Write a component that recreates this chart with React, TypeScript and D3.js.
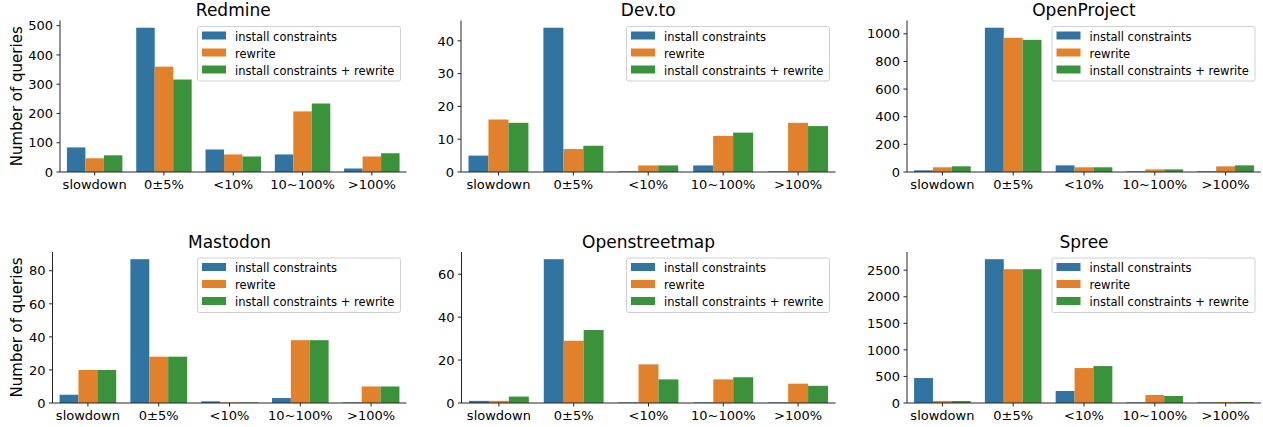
import React from "react";
import * as d3 from "d3";

const categories = ["slowdown", "0±5%", "<10%", "10~100%", ">100%"];
const seriesNames = ["install constraints", "rewrite", "install constraints + rewrite"];
const colors = ["#3274a1", "#e1812c", "#3a923a"];

const redmineInstall = [84, 493, 77, 60, 12];
const redmineRewrite = [47, 360, 60, 207, 53];
const redmineBoth = [57, 316, 53, 234, 64];

const devtoInstall = [5, 44, 0, 2, 0];
const devtoRewrite = [16, 7, 2, 11, 15];
const devtoBoth = [15, 8, 2, 12, 14];

const openprojectInstall = [12, 1044, 48, 3, 2];
const openprojectRewrite = [34, 971, 34, 19, 41];
const openprojectBoth = [41, 956, 34, 19, 48];

const mastodonInstall = [5, 87, 1, 3, 0];
const mastodonRewrite = [20, 28, 0, 38, 10];
const mastodonBoth = [20, 28, 0, 38, 10];

const osmInstall = [1, 67, 0, 0, 0];
const osmRewrite = [1, 29, 18, 11, 9];
const osmBoth = [3, 34, 11, 12, 8];

const spreeInstall = [470, 2707, 226, 5, 3];
const spreeRewrite = [38, 2519, 658, 150, 19];
const spreeBoth = [38, 2519, 695, 132, 19];

const redmineTicks = [0, 100, 200, 300, 400, 500];
const devtoTicks = [0, 10, 20, 30, 40];
const openprojectTicks = [0, 200, 400, 600, 800, 1000];
const mastodonTicks = [0, 20, 40, 60, 80];
const osmTicks = [0, 20, 40, 60];
const spreeTicks = [0, 500, 1000, 1500, 2000, 2500];

const panels = [
  { title: "Redmine", series: [redmineInstall, redmineRewrite, redmineBoth], ticks: redmineTicks, box: [60, 406.5, 20.5, 172], ylabel: true },
  { title: "Dev.to", series: [devtoInstall, devtoRewrite, devtoBoth], ticks: devtoTicks, box: [461, 835.5, 20.5, 172], ylabel: false },
  { title: "OpenProject", series: [openprojectInstall, openprojectRewrite, openprojectBoth], ticks: openprojectTicks, box: [907, 1261, 20.5, 172], ylabel: false },
  { title: "Mastodon", series: [mastodonInstall, mastodonRewrite, mastodonBoth], ticks: mastodonTicks, box: [52.5, 406.5, 252, 403], ylabel: true },
  { title: "Openstreetmap", series: [osmInstall, osmRewrite, osmBoth], ticks: osmTicks, box: [461.5, 835.5, 252, 403], ylabel: false },
  { title: "Spree", series: [spreeInstall, spreeRewrite, spreeBoth], ticks: spreeTicks, box: [907, 1261, 252, 403], ylabel: false },
];

const FONT = "DejaVu Sans, sans-serif";
const AXIS = "#262626";

function Panel({ p }: { p: any }) {
  const [left, right, top, bottom] = p.box;
  const maxV = d3.max(p.series.flat() as number[]) as number;
  const y = d3.scaleLinear().domain([0, maxV * 1.05]).range([bottom, top]);
  const x = d3.scaleBand().domain(categories).range([left, right]).paddingInner(0.2).paddingOuter(0.1);
  const xs = d3.scaleBand().domain(seriesNames).range([0, x.bandwidth()]).padding(0);
  const lw = 203;
  const lh = 54.5;
  const lx = right - 6 - lw;
  const ly = top + 6;
  return (
    <g>
      {p.series.map((vals: number[], si: number) =>
        vals.map((v, ci) => (
          <rect
            key={`${si}-${ci}`}
            x={(x(categories[ci]) as number) + (xs(seriesNames[si]) as number)}
            y={Math.min(y(v), bottom - 0.6)}
            width={xs.bandwidth()}
            height={Math.max(bottom - y(v), 0.6)}
            fill={colors[si]}
          />
        ))
      )}
      <line x1={left} x2={left} y1={top} y2={bottom} stroke={AXIS} strokeWidth={1} />
      <line x1={left} x2={right} y1={bottom} y2={bottom} stroke={AXIS} strokeWidth={1} />
      {p.ticks.map((t: number) => (
        <g key={t}>
          <line x1={left - 3.5} x2={left} y1={y(t)} y2={y(t)} stroke={AXIS} strokeWidth={1} />
          <text x={left - 7} y={y(t)} dy="0.36em" textAnchor="end" fontSize={13} fontFamily={FONT} fill="#000">
            {t}
          </text>
        </g>
      ))}
      {categories.map((c) => {
        const cx = (x(c) as number) + x.bandwidth() / 2;
        return (
          <g key={c}>
            <line x1={cx} x2={cx} y1={bottom} y2={bottom + 3.5} stroke={AXIS} strokeWidth={1} />
            <text x={cx} y={bottom + 17} textAnchor="middle" fontSize={13} fontFamily={FONT} fill="#000">
              {c}
            </text>
          </g>
        );
      })}
      <text x={(left + right) / 2} y={top - 4.5} textAnchor="middle" fontSize={17} fontFamily={FONT} fill="#000">
        {p.title}
      </text>
      {p.ylabel && (
        <text
          transform={`translate(17,${(top + bottom) / 2}) rotate(-90)`}
          dy="0.36em"
          textAnchor="middle"
          fontSize={15}
          fontFamily={FONT}
          fill="#000"
        >
          Number of queries
        </text>
      )}
      <rect x={lx} y={ly} width={lw} height={lh} rx={2} fill="white" fillOpacity={0.8} stroke="#d0d0d0" strokeWidth={1} />
      {seriesNames.map((s, i) => (
        <g key={s}>
          <rect x={lx + 4.5} y={ly + 5 + i * 17} width={24} height={8} fill={colors[i]} />
          <text x={lx + 37.5} y={ly + 10 + i * 17} dy="0.36em" fontSize={11.5} fontFamily={FONT} fill="#000">
            {s}
          </text>
        </g>
      ))}
    </g>
  );
}

export default function App() {
  return (
    <svg
      width={1263}
      height={427}
      style={{ position: "absolute", left: 0, top: 0, background: "white" }}
    >
      {panels.map((p) => (
        <Panel key={p.title} p={p} />
      ))}
    </svg>
  );
}
